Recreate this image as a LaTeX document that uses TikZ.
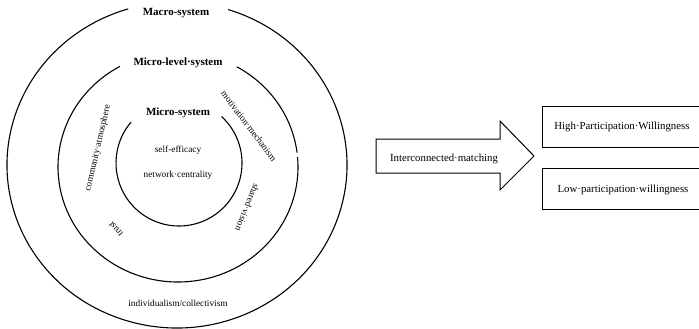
\documentclass[tikz,border=0pt]{standalone}
\usepackage{fontspec}
\setmainfont{Liberation Serif}
\usetikzlibrary{calc}
\begin{document}
\begin{tikzpicture}[x=1pt,y=-1pt,
  ring/.style={line width=1.1pt},
  title/.style={font=\fontsize{11}{13}\selectfont\bfseries, inner sep=1pt},
  lab/.style={font=\fontsize{9.3}{11}\selectfont, inner sep=1pt},
  rlab/.style={font=\fontsize{10.8}{13}\selectfont, inner sep=1pt},
  outbox/.style={draw, line width=1pt, minimum width=160pt, minimum height=41pt, inner sep=0pt},
  bigarrow/.style={draw, line width=1pt, line join=miter}]
\useasboundingbox (0,0) rectangle (699,329);
% centers of the rings
\coordinate (c1) at (177,165);
\coordinate (c2) at (178,167);
\coordinate (c3) at (179,163);
% outer ring
\draw[ring] ($(c1)+(-72.5:170 and 163)$) arc[start angle=-72.5, end angle=253.3, x radius=170, y radius=163];
% middle ring
\draw[ring] ($(c2)+(-60.6:120 and 115)$) arc[start angle=-60.6, end angle=-7.2, x radius=120, y radius=115];
\draw[ring] ($(c2)+(-5:120 and 115)$) arc[start angle=-5, end angle=241.1, x radius=120, y radius=115];
% inner ring
\draw[ring] ($(c3)+(-47.5:63 and 63)$) arc[start angle=-47.5, end angle=220.4, x radius=63, y radius=63];
% titles
\node[title] (macro) at (176,13.5) {Macro-system};
\node[title] (mlevel) at (178,62.5) {Micro-level·system};
\node[title] (micro) at (178,113) {Micro-system};
% inner labels
\node[lab] (self) at (178,150) {self-efficacy};
\node[lab] (netc) at (178,175.5) {network·centrality};
\node[lab] (indiv) at (178,303) {individualism/collectivism};
% rotated labels in the middle ring
\node[lab, rotate=77] (comm) at (98,148) {community·atmosphere};
\node[lab, rotate=-53] (motiv) at (249,126) {motivation·mechanism};
\node[lab, rotate=-112] (shared) at (247.5,207.5) {shared·vision};
\node[lab, rotate=131] (trust) at (116,229) {trust};
% big arrow
\draw[bigarrow] (376,139) -- (500,139) -- (500,121) -- (534,156) -- (500,190) -- (500,173) -- (376,173) -- cycle;
\node[rlab] (match) at (444,159) {Interconnected·matching};
% outcome boxes
\node[outbox] (high) at (622,126.5) {};
\node[rlab] (hight) at (622,126.5) {High·Participation·Willingness};
\node[outbox] (low) at (622,188.5) {};
\node[rlab] (lowt) at (623,190) {Low·participation·willingness};
\end{tikzpicture}
\end{document}
